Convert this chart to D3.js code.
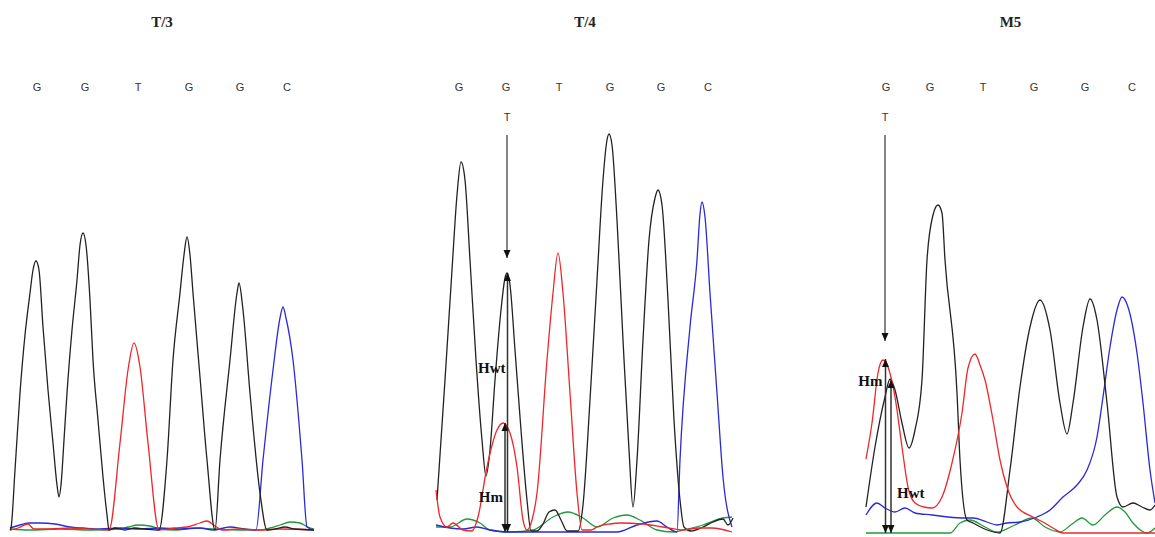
<!DOCTYPE html>
<html>
<head>
<meta charset="utf-8">
<script src="https://cdn.jsdelivr.net/npm/d3@7"></script>
<style>
  body { margin: 0; background: #fff; }
</style>
</head>
<body>
<div id="chromatograms"></div>
<script>
// sample names and the called bases (same read for all three)
const sampleNames = ["T/3", "T/4", "M5"];
const baseCalls = ["G", "G", "T", "G", "G", "C"];
const mutantBase = "T";

// scan index of each base call, per sample
const callScansT3 = [27, 75, 128, 179, 230, 277];
const callScansT4 = [23, 70, 123, 174, 225, 272];
const callScansM5 = [20, 64, 117, 168, 219, 266];

// traces as [scan, signal]
const t3Black = [[0,0],[1,2],[5,60],[10,137],[15,195],[20,237],[23,260],[26,269],[29,260],[33,203],[38,140],[43,87],[47,45],[49,33],[51,45],[54,90],[57,137],[62,200],[67,250],[70,285],[73,297],[76,285],[80,230],[83,170],[88,110],[93,53],[97,15],[99,0],[105,2],[115,0],[125,2],[135,1],[149,0],[157,70],[163,170],[170,237],[174,275],[177,293],[180,275],[183,237],[190,153],[197,70],[205,0],[210,70],[220,170],[227,237],[229,247],[233,220],[240,137],[250,37],[257,0],[265,1],[275,3],[285,1],[304,0]];
const t3Red = [[0,0],[8,2],[18,6],[24,1],[40,1],[60,2],[80,1],[99,0],[110,87],[118,160],[124,187],[130,163],[138,87],[149,0],[165,2],[177,3],[190,7],[197,9],[205,4],[212,0],[230,1],[250,0],[270,1],[304,0]];
const t3Blue = [[0,2],[10,5],[20,7],[30,7],[45,6],[60,3],[73,2],[90,1],[110,2],[130,1],[150,2],[170,1],[190,2],[203,0],[220,3],[235,1],[246,0],[253,70],[263,160],[270,212],[273,223],[276,212],[283,170],[292,70],[297,3],[304,0]];
const t3Green = [[0,1],[20,0],[50,1],[80,0],[110,1],[118,3],[128,5],[140,4],[150,1],[165,0],[185,2],[205,1],[230,0],[250,0],[260,2],[270,5],[280,8],[290,7],[298,3],[304,1]];

const t4Black = [[1,32],[9,152],[16,262],[21,337],[25,370],[29,352],[34,272],[40,172],[46,92],[50,56],[54,82],[59,152],[65,222],[69,254],[71,259],[74,247],[79,182],[85,102],[91,32],[95,1],[101,1],[107,8],[113,20],[119,22],[125,12],[131,1],[142,1],[147,27],[154,132],[161,252],[167,352],[171,392],[173,398],[176,387],[181,312],[187,192],[193,82],[197,25],[201,72],[207,192],[213,292],[219,334],[222,342],[226,327],[232,232],[238,112],[244,32],[248,5],[255,1],[267,5],[277,10],[287,13],[292,7],[297,14]];
const t4Red = [[0,42],[4,15],[11,5],[17,9],[27,2],[36,1],[42,15],[51,65],[61,102],[67,109],[74,99],[81,65],[87,12],[91,2],[96,12],[101,39],[111,172],[117,239],[122,279],[127,239],[134,139],[141,39],[146,2],[155,2],[161,5],[174,8],[184,9],[207,8],[227,5],[247,2],[262,4],[276,4],[296,0]];
const t4Blue = [[0,7],[14,4],[27,3],[41,5],[54,2],[71,0],[94,0],[140,0],[181,0],[201,7],[221,11],[231,5],[241,0],[244,72],[254,205],[261,272],[264,318],[266,330],[269,315],[274,239],[281,139],[287,55],[296,5]];
const t4Green = [[0,5],[14,5],[31,13],[44,9],[54,2],[74,0],[97,2],[117,15],[132,20],[147,14],[161,5],[177,14],[191,17],[204,12],[221,2],[237,0],[247,2],[267,7],[287,14],[296,15]];

const m5Black = [[0,26],[9,86],[19,136],[24,154],[29,143],[36,110],[43,85],[49,103],[56,153],[61,273],[67,318],[72,328],[76,320],[79,273],[91,140],[94,73],[101,13],[107,10],[121,3],[134,0],[144,63],[154,146],[164,206],[174,233],[184,203],[194,130],[201,99],[207,130],[217,206],[224,234],[231,213],[241,130],[251,36],[257,26],[267,30],[276,26],[284,23],[289,28]];
const m5Red = [[0,74],[6,110],[12,160],[17,173],[22,166],[29,136],[36,86],[42,46],[49,30],[58,26],[66,25],[76,36],[86,70],[96,120],[102,165],[109,179],[114,168],[119,153],[127,113],[134,73],[141,46],[151,26],[167,16],[177,11],[187,5],[197,0],[289,0]];
const m5Blue = [[0,18],[11,30],[19,25],[29,21],[39,25],[49,20],[66,18],[82,16],[99,15],[107,15],[121,11],[131,8],[141,10],[154,11],[171,16],[184,23],[197,36],[211,48],[221,63],[231,96],[237,136],[244,186],[251,223],[256,236],[262,226],[271,180],[277,130],[284,63],[289,30]];
const m5Green = [[0,0],[84,0],[94,10],[104,13],[119,6],[131,1],[149,8],[166,15],[179,6],[194,1],[206,9],[216,15],[227,8],[239,18],[251,26],[259,21],[267,10],[281,0],[289,5]];

// peak heights at the mutated position: [scan, signal]
const t4MutScan = 71, t4PointerTip = 274;
const t4Hwt = [71.5, 259];
const t4Hm = [69, 109];
const m5MutScan = 19, m5PointerTip = 192;
const m5Hm = [19.5, 174];
const m5Hwt = [25, 153];

// set the dimensions of the figure
const width = 1155;
const height = 537;
const titleY = 27;
const callY = 91;
const mutLabelY = 121;
const pointerTop = 135;

const svg = d3.select("#chromatograms")
    .append("svg")
    .attr("width", width)
    .attr("height", height)
    .style("display", "block")
    .style("font-family", "'Liberation Serif', serif");

// arrowhead used by the pointer and height arrows
svg.append("defs")
    .append("marker")
    .attr("id", "head")
    .attr("markerUnits", "userSpaceOnUse")
    .attr("viewBox", "0 0 8 8")
    .attr("refX", 8)
    .attr("refY", 4)
    .attr("markerWidth", 8)
    .attr("markerHeight", 8)
    .attr("orient", "auto-start-reverse")
    .append("path")
    .attr("d", "M0,0.5L8,4L0,7.5Z")
    .attr("fill", "#111");

const traceColors = { black: "#222", red: "#f0262a", blue: "#2a2ad8", green: "#1f9a3a" };

const panels = [
    { name: sampleNames[0], left: 10, span: 304, baseline: 530, calls: callScansT3,
      traces: { green: t3Green, blue: t3Blue, red: t3Red, black: t3Black } },
    { name: sampleNames[1], left: 436, span: 298, baseline: 532, calls: callScansT4,
      traces: { green: t4Green, blue: t4Blue, black: t4Black, red: t4Red },
      mut: { scan: t4MutScan, tip: t4PointerTip,
             arrows: [
                 { label: "Hwt", at: t4Hwt, anchor: "end", dx: -2, labelSig: 164 },
                 { label: "Hm", at: t4Hm, anchor: "end", dx: -2, labelSig: 35 }
             ] } },
    { name: sampleNames[2], left: 866, span: 289, baseline: 533, calls: callScansM5,
      traces: { green: m5Green, blue: m5Blue, black: m5Black, red: m5Red },
      mut: { scan: m5MutScan, tip: m5PointerTip,
             arrows: [
                 { label: "Hm", at: m5Hm, anchor: "end", dx: -3, labelSig: 152 },
                 { label: "Hwt", at: m5Hwt, anchor: "start", dx: 6, labelSig: 40 }
             ] } }
];

panels.forEach(p => {
    const x = d3.scaleLinear().domain([0, p.span]).range([p.left, p.left + p.span]);
    const y = d3.scaleLinear().domain([0, 400]).range([p.baseline, p.baseline - 400]);
    const g = svg.append("g");

    // sample title
    g.append("text")
        .attr("x", x(p.span / 2))
        .attr("y", titleY)
        .attr("text-anchor", "middle")
        .style("font-size", "15px")
        .style("font-weight", "bold")
        .style("fill", "#222")
        .text(p.name);

    // base calls
    g.selectAll(".call")
        .data(baseCalls.map((b, i) => [b, p.calls[i]]))
        .join("text")
        .attr("class", "call")
        .attr("x", d => x(d[1]))
        .attr("y", callY)
        .attr("text-anchor", "middle")
        .style("font-family", "'Liberation Sans', sans-serif")
        .style("font-size", "11px")
        .style("fill", "#333")
        .text(d => d[0]);

    // the four dye traces
    const line = d3.line()
        .x(d => x(d[0]))
        .y(d => y(d[1]))
        .curve(d3.curveMonotoneX);

    Object.entries(p.traces).forEach(([col, pts]) => {
        g.append("path")
            .datum(pts)
            .attr("d", line)
            .attr("fill", "none")
            .attr("stroke", traceColors[col])
            .attr("stroke-width", 1.3)
            .attr("stroke-linejoin", "round");
    });

    if (!p.mut) return;

    // heterozygous call: pointer from the extra base down to the peak
    g.append("text")
        .attr("x", x(p.mut.scan))
        .attr("y", mutLabelY)
        .attr("text-anchor", "middle")
        .style("font-family", "'Liberation Sans', sans-serif")
        .style("font-size", "11px")
        .style("fill", "#333")
        .text(mutantBase);

    g.append("line")
        .attr("x1", x(p.mut.scan))
        .attr("x2", x(p.mut.scan))
        .attr("y1", pointerTop)
        .attr("y2", y(p.mut.tip))
        .attr("stroke", "#333")
        .attr("stroke-width", 1.2)
        .attr("marker-end", "url(#head)");

    // peak height arrows Hwt / Hm
    p.mut.arrows.forEach(a => {
        g.append("line")
            .attr("x1", x(a.at[0]))
            .attr("x2", x(a.at[0]))
            .attr("y1", y(0))
            .attr("y2", y(a.at[1]))
            .attr("stroke", "#333")
            .attr("stroke-width", 1.5)
            .attr("marker-start", "url(#head)")
            .attr("marker-end", "url(#head)");

        g.append("text")
            .attr("x", x(a.at[0]) + a.dx)
            .attr("y", y(a.labelSig) + 5)
            .attr("text-anchor", a.anchor)
            .style("font-size", "15px")
            .style("font-weight", "bold")
            .style("fill", "#111")
            .text(a.label);
    });
});
</script>
</body>
</html>
